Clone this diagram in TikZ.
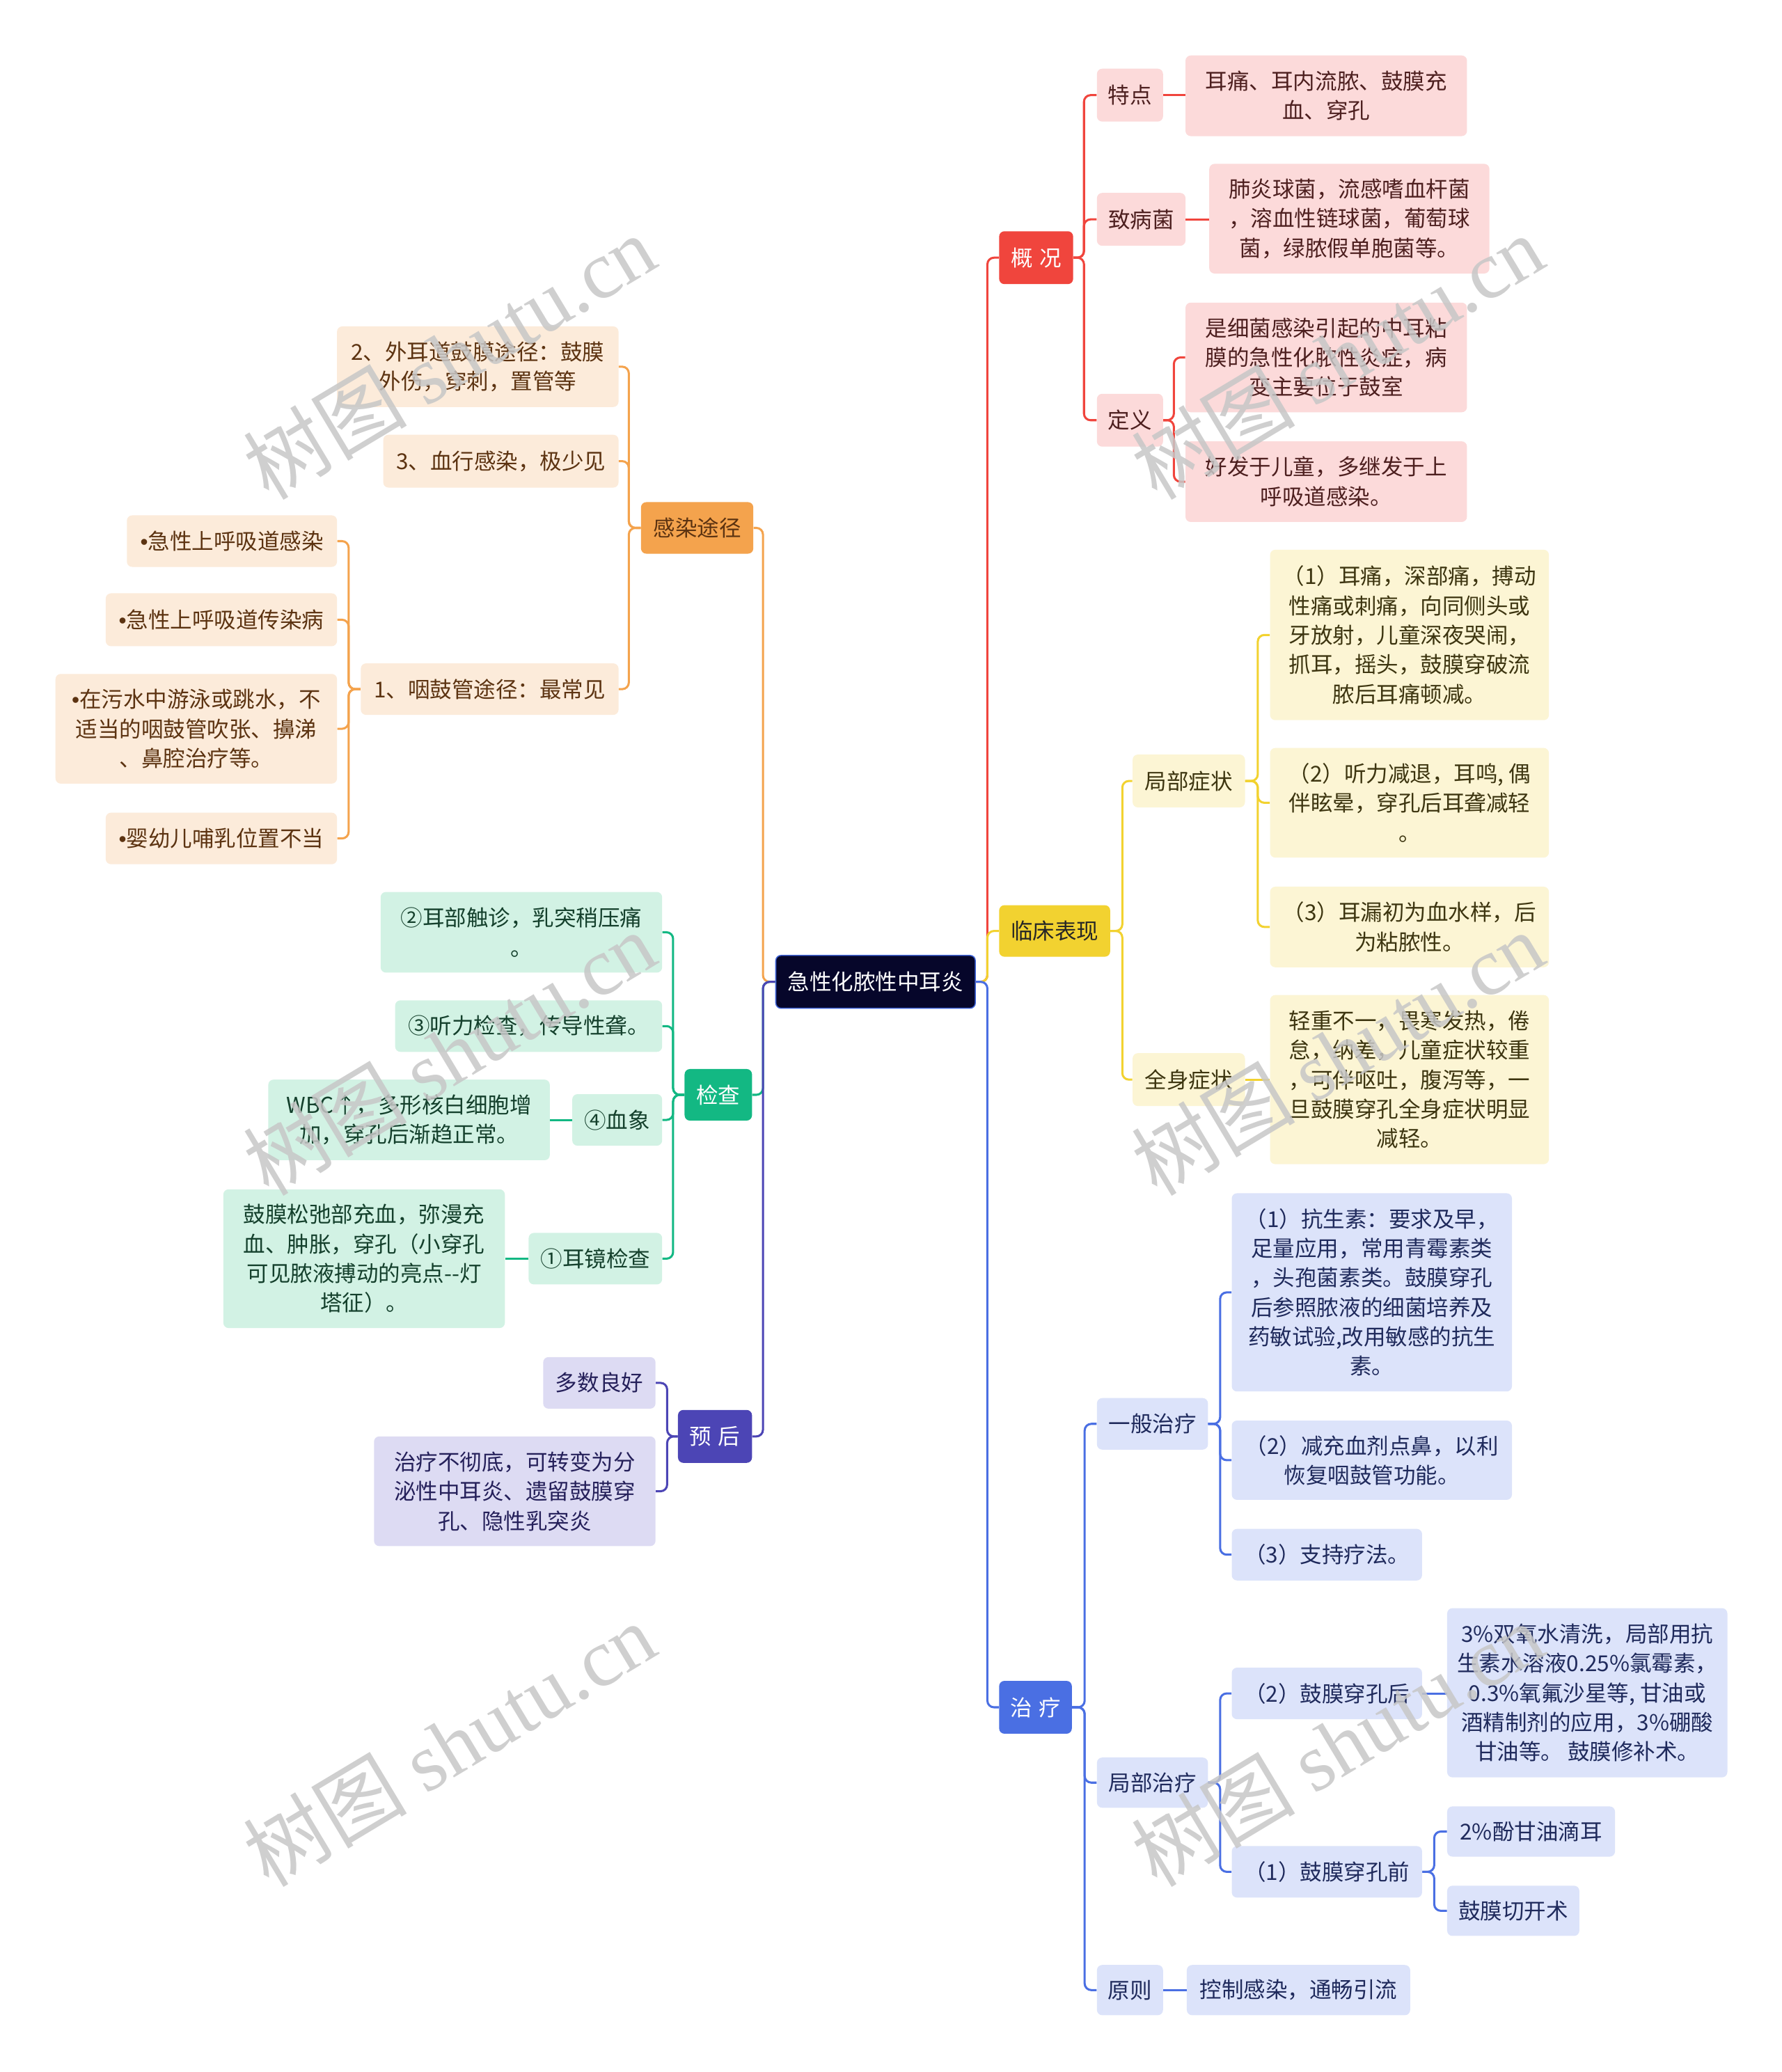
\documentclass[tikz,border=0pt]{standalone}
\usepackage{fontspec}
\setmainfont{Noto Sans CJK SC}
\newfontfamily\wmcjk{Noto Sans CJK SC}
\newfontfamily\wmlat{Liberation Serif}
\newfontfamily\latf{Liberation Sans}
\usetikzlibrary{calc}
\definecolor{rootfill}{HTML}{06062A}
\definecolor{rootdraw}{HTML}{3E63D8}
\definecolor{cR}{HTML}{F0453D}\definecolor{pR}{HTML}{FCDADA}\definecolor{tR}{HTML}{4D1F1F}
\definecolor{cY}{HTML}{F2D230}\definecolor{pY}{HTML}{FCF5D4}\definecolor{tY}{HTML}{3D3510}
\definecolor{cB}{HTML}{4A6FE3}\definecolor{pB}{HTML}{DCE3FA}\definecolor{tB}{HTML}{1F2A5C}
\definecolor{cO}{HTML}{F4A34D}\definecolor{pO}{HTML}{FCEBDA}\definecolor{tO}{HTML}{5C3311}
\definecolor{cG}{HTML}{13B883}\definecolor{pG}{HTML}{D2F2E4}\definecolor{tG}{HTML}{14402C}
\definecolor{cP}{HTML}{4C45B5}\definecolor{pP}{HTML}{DDDBF3}\definecolor{tP}{HTML}{25205A}
\newcommand\bx[7]{\node[#1, minimum width={#5-#3}, minimum height={#6-#4}] (#2) at ({(#3+#5)/2},{(#4+#6)/2}) {#7};}
\newcommand\cR[4]{\draw[#1] (#2.east) -- ++(#4,0) |- (#3.west);}
\newcommand\cL[4]{\draw[#1] (#2.west) -- ++(-#4,0) |- (#3.east);}
\newcommand\sR[3]{\draw[#1] (#2.east) -- (#2.east -| #3.west);}
\newcommand\sL[3]{\draw[#1] (#2.west) -- (#2.west -| #3.east);}
\newcommand\bul{{\latf •}}
\begin{document}
\begin{tikzpicture}[x=1pt,y=-1pt,
  box/.style={rounded corners=4pt, inner sep=0pt, align=center, font=\fontsize{16.6}{22.3}\selectfont},
  rootbox/.style={box, fill=rootfill, draw=rootdraw, line width=0.8pt, text=white},
  mR/.style={box, fill=cR, text=white}, sR/.style={box, fill=pR, text=tR},
  mY/.style={box, fill=cY, text=black!85}, sY/.style={box, fill=pY, text=tY},
  mB/.style={box, fill=cB, text=white}, sB/.style={box, fill=pB, text=tB},
  mO/.style={box, fill=cO, text=tO}, sO/.style={box, fill=pO, text=tO},
  mG/.style={box, fill=cG, text=white}, sG/.style={box, fill=pG, text=tG},
  mP/.style={box, fill=cP, text=white}, sP/.style={box, fill=pP, text=tP},
  ln/.style={line width=1.6pt, rounded corners=5pt},
  lR/.style={ln, draw=cR}, lY/.style={ln, draw=cY}, lB/.style={ln, draw=cB},
  lO/.style={ln, draw=cO}, lG/.style={ln, draw=cG}, lP/.style={ln, draw=cP},
  wm/.style={rotate=31, text=black!22, opacity=0.85, font=\fontsize{62}{64}\selectfont}
]
\useasboundingbox (0,0) rectangle (1348,1568);
\fill[white] (0,0) rectangle (1348,1568);

% root
\bx{rootbox}{root}{587}{723}{738}{763}{急性化脓性中耳炎}
% main branches
\bx{mR}{gk}{756}{175}{812}{215}{概\hspace{0.3em}况}
\bx{mY}{lc}{756}{685}{840}{724}{临床表现}
\bx{mB}{zl}{756}{1272}{811}{1312}{治\hspace{0.3em}疗}
\bx{mO}{gr}{485}{380}{570}{419}{感染途径}
\bx{mG}{jc}{518}{809}{569}{848}{检查}
\bx{mP}{yh}{513}{1067}{569}{1107}{预\hspace{0.3em}后}

% 概况
\bx{sR}{td}{830}{52}{880}{92}{特点}
\bx{sR}{tdA}{897}{42}{1110}{103}{耳痛、耳内流脓、鼓膜充\\血、穿孔}
\bx{sR}{zb}{830}{146}{897}{186}{致病菌}
\bx{sR}{zbA}{915}{124}{1127}{207}{肺炎球菌，流感嗜血杆菌\\，溶血性链球菌，葡萄球\\菌，绿脓假单胞菌等。}
\bx{sR}{dy}{830}{298}{880}{338}{定义}
\bx{sR}{dyA}{897}{229}{1110}{312}{是细菌感染引起的中耳粘\\膜的急性化脓性炎症，病\\变主要位于鼓室}
\bx{sR}{dyB}{897}{334}{1110}{395}{好发于儿童，多继发于上\\呼吸道感染。}

% 临床表现
\bx{sY}{jb}{857}{571}{942}{611}{局部症状}
\bx{sY}{qs}{857}{797}{942}{837}{全身症状}
\bx{sY}{jbA}{961}{416}{1172}{545}{（1）耳痛，深部痛，搏动\\性痛或刺痛，向同侧头或\\牙放射，儿童深夜哭闹，\\抓耳，摇头，鼓膜穿破流\\脓后耳痛顿减。}
\bx{sY}{jbB}{961}{566}{1172}{649}{（2）听力减退，耳鸣, 偶\\伴眩晕，穿孔后耳聋减轻\\。}
\bx{sY}{jbC}{961}{671}{1172}{732}{（3）耳漏初为血水样，后\\为粘脓性。}
\bx{sY}{qsA}{961}{753}{1172}{881}{轻重不一，畏寒发热，倦\\怠，纳差，儿童症状较重\\，可伴呕吐，腹泻等，一\\旦鼓膜穿孔全身症状明显\\减轻。}

% 治疗
\bx{sB}{yb}{830}{1058}{914}{1097}{一般治疗}
\bx{sB}{jz}{830}{1330}{914}{1368}{局部治疗}
\bx{sB}{yz}{830}{1487}{880}{1525}{原则}
\bx{sB}{ybA}{932}{903}{1144}{1053}{（1）抗生素：要求及早，\\足量应用，常用青霉素类\\，头孢菌素类。鼓膜穿孔\\后参照脓液的细菌培养及\\药敏试验,改用敏感的抗生\\素。}
\bx{sB}{ybB}{932}{1075}{1144}{1135}{（2）减充血剂点鼻，以利\\恢复咽鼓管功能。}
\bx{sB}{ybC}{932}{1157}{1076}{1196}{（3）支持疗法。}
\bx{sB}{jzB}{932}{1262}{1076}{1301}{（2）鼓膜穿孔后}
\bx{sB}{jzA}{932}{1397}{1076}{1436}{（1）鼓膜穿孔前}
\bx{sB}{jzBA}{1095}{1217}{1307}{1345}{3\%双氧水清洗，局部用抗\\生素水溶液0.25\%氯霉素，\\0.3\%氧氟沙星等, 甘油或\\酒精制剂的应用，3\%硼酸\\甘油等。 鼓膜修补术。}
\bx{sB}{jzAA}{1095}{1367}{1222}{1405}{2\%酚甘油滴耳}
\bx{sB}{jzAB}{1095}{1427}{1195}{1465}{鼓膜切开术}
\bx{sB}{yzA}{898}{1487}{1067}{1525}{控制感染，通畅引流}

% 感染途径
\bx{sO}{grB}{255}{247}{468}{308}{2、外耳道鼓膜途径：鼓膜\\外伤，穿刺，置管等}
\bx{sO}{grC}{290}{329}{468}{369}{3、血行感染，极少见}
\bx{sO}{grA}{273}{502}{468}{541}{1、咽鼓管途径：最常见}
\bx{sO}{gaA}{96}{390}{255}{429}{\bul 急性上呼吸道感染}
\bx{sO}{gaB}{80}{449}{255}{489}{\bul 急性上呼吸道传染病}
\bx{sO}{gaC}{42}{510}{255}{593}{\bul 在污水中游泳或跳水，不\\适当的咽鼓管吹张、擤涕\\、鼻腔治疗等。}
\bx{sO}{gaD}{80}{615}{255}{654}{\bul 婴幼儿哺乳位置不当}

% 检查
\bx{sG}{jcB}{288}{675}{501}{736}{②耳部触诊，乳突稍压痛\\。}
\bx{sG}{jcC}{299}{757}{501}{796}{③听力检查，传导性聋。}
\bx{sG}{jcD}{433}{828}{501}{867}{④血象}
\bx{sG}{jcDA}{203}{817}{416}{878}{WBC↑，多形核白细胞增\\加，穿孔后渐趋正常。}
\bx{sG}{jcA}{400}{933}{501}{972}{①耳镜检查}
\bx{sG}{jcAA}{169}{900}{382}{1005}{鼓膜松弛部充血，弥漫充\\血、肿胀，穿孔（小穿孔\\可见脓液搏动的亮点-{}-灯\\塔征）。}

% 预后
\bx{sP}{yhA}{411}{1027}{496}{1066}{多数良好}
\bx{sP}{yhB}{283}{1087}{496}{1170}{治疗不彻底，可转变为分\\泌性中耳炎、遗留鼓膜穿\\孔、隐性乳突炎}

% connectors root
\cR{lR}{root}{gk}{8.7}
\cR{lY}{root}{lc}{8.7}
\cR{lB}{root}{zl}{8.7}
\cL{lO}{root}{gr}{9.3}
\cL{lG}{root}{jc}{9.3}
\cL{lP}{root}{yh}{9.3}
% 概况
\cR{lR}{gk}{td}{8}
\cR{lR}{gk}{zb}{8}
\cR{lR}{gk}{dy}{8}
\sR{lR}{td}{tdA}
\sR{lR}{zb}{zbA}
\cR{lR}{dy}{dyA}{8}
\cR{lR}{dy}{dyB}{8}
% 临床表现
\cR{lY}{lc}{jb}{9}
\cR{lY}{lc}{qs}{9}
\cR{lY}{jb}{jbA}{9.5}
\cR{lY}{jb}{jbB}{9.5}
\cR{lY}{jb}{jbC}{9.5}
\sR{lY}{qs}{qsA}
% 治疗
\cR{lB}{zl}{yb}{9.5}
\cR{lB}{zl}{jz}{9.5}
\cR{lB}{zl}{yz}{9.5}
\cR{lB}{yb}{ybA}{9}
\cR{lB}{yb}{ybB}{9}
\cR{lB}{yb}{ybC}{9}
\cR{lB}{jz}{jzB}{9}
\cR{lB}{jz}{jzA}{9}
\sR{lB}{jzB}{jzBA}
\cR{lB}{jzA}{jzAA}{9}
\cR{lB}{jzA}{jzAB}{9}
\sR{lB}{yz}{yzA}
% 感染途径
\cL{lO}{gr}{grB}{9}
\cL{lO}{gr}{grC}{9}
\cL{lO}{gr}{grA}{9}
\cL{lO}{grA}{gaA}{9}
\cL{lO}{grA}{gaB}{9}
\cL{lO}{grA}{gaC}{9}
\cL{lO}{grA}{gaD}{9}
% 检查
\cL{lG}{jc}{jcB}{8.5}
\cL{lG}{jc}{jcC}{8.5}
\cL{lG}{jc}{jcD}{8.5}
\cL{lG}{jc}{jcA}{8.5}
\sL{lG}{jcD}{jcDA}
\sL{lG}{jcA}{jcAA}
% 预后
\cL{lP}{yh}{yhA}{8}
\cL{lP}{yh}{yhB}{8}

% watermarks
\foreach \wx/\wy/\wn in {340/270/a, 1012/270/b, 340/797/c, 1012/797/d, 340/1320/e, 1012/1320/f}{
  \node[wm] (wm\wn) at (\wx,\wy) {\wmcjk 树图 \wmlat shutu.cn};
}
\end{tikzpicture}
\end{document}
